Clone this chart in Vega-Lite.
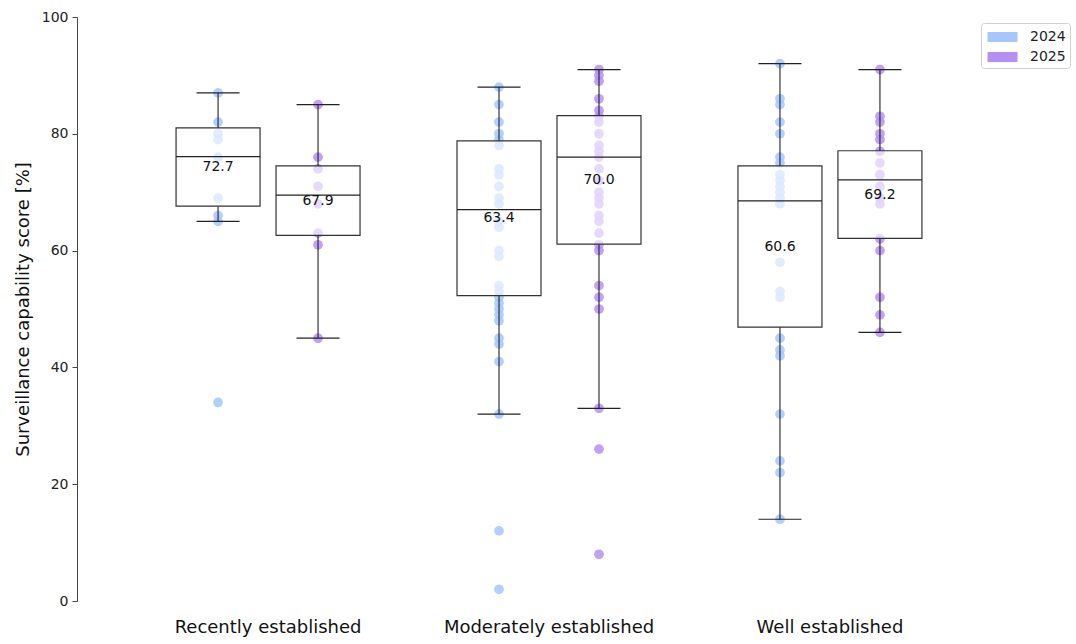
{
  "$schema": "https://vega.github.io/schema/vega-lite/v6.json",
  "width": 944,
  "height": 584,
  "autosize": {"type": "none"},
  "padding": {"left": 77, "top": 17, "right": 55, "bottom": 43},
  "background": "white",
  "config": {"font": "DejaVu Sans", "view": {"stroke": null}},
  "datasets": {
    "pts": [
      {"group": "Recently established", "year": "2024", "score": 87},
      {"group": "Recently established", "year": "2024", "score": 82},
      {"group": "Recently established", "year": "2024", "score": 80},
      {"group": "Recently established", "year": "2024", "score": 79},
      {"group": "Recently established", "year": "2024", "score": 76},
      {"group": "Recently established", "year": "2024", "score": 69},
      {"group": "Recently established", "year": "2024", "score": 66},
      {"group": "Recently established", "year": "2024", "score": 65},
      {"group": "Recently established", "year": "2024", "score": 34},
      {"group": "Recently established", "year": "2025", "score": 85},
      {"group": "Recently established", "year": "2025", "score": 76},
      {"group": "Recently established", "year": "2025", "score": 74},
      {"group": "Recently established", "year": "2025", "score": 71},
      {"group": "Recently established", "year": "2025", "score": 68},
      {"group": "Recently established", "year": "2025", "score": 63},
      {"group": "Recently established", "year": "2025", "score": 61},
      {"group": "Recently established", "year": "2025", "score": 45},
      {"group": "Moderately established", "year": "2024", "score": 88},
      {"group": "Moderately established", "year": "2024", "score": 85},
      {"group": "Moderately established", "year": "2024", "score": 82},
      {"group": "Moderately established", "year": "2024", "score": 80},
      {"group": "Moderately established", "year": "2024", "score": 79},
      {"group": "Moderately established", "year": "2024", "score": 78},
      {"group": "Moderately established", "year": "2024", "score": 74},
      {"group": "Moderately established", "year": "2024", "score": 73},
      {"group": "Moderately established", "year": "2024", "score": 71},
      {"group": "Moderately established", "year": "2024", "score": 69},
      {"group": "Moderately established", "year": "2024", "score": 68},
      {"group": "Moderately established", "year": "2024", "score": 65},
      {"group": "Moderately established", "year": "2024", "score": 64},
      {"group": "Moderately established", "year": "2024", "score": 60},
      {"group": "Moderately established", "year": "2024", "score": 59},
      {"group": "Moderately established", "year": "2024", "score": 54},
      {"group": "Moderately established", "year": "2024", "score": 53},
      {"group": "Moderately established", "year": "2024", "score": 52},
      {"group": "Moderately established", "year": "2024", "score": 51},
      {"group": "Moderately established", "year": "2024", "score": 50},
      {"group": "Moderately established", "year": "2024", "score": 49},
      {"group": "Moderately established", "year": "2024", "score": 48},
      {"group": "Moderately established", "year": "2024", "score": 45},
      {"group": "Moderately established", "year": "2024", "score": 44},
      {"group": "Moderately established", "year": "2024", "score": 41},
      {"group": "Moderately established", "year": "2024", "score": 32},
      {"group": "Moderately established", "year": "2024", "score": 12},
      {"group": "Moderately established", "year": "2024", "score": 2},
      {"group": "Moderately established", "year": "2025", "score": 91},
      {"group": "Moderately established", "year": "2025", "score": 90},
      {"group": "Moderately established", "year": "2025", "score": 89},
      {"group": "Moderately established", "year": "2025", "score": 86},
      {"group": "Moderately established", "year": "2025", "score": 84},
      {"group": "Moderately established", "year": "2025", "score": 83},
      {"group": "Moderately established", "year": "2025", "score": 82},
      {"group": "Moderately established", "year": "2025", "score": 80},
      {"group": "Moderately established", "year": "2025", "score": 78},
      {"group": "Moderately established", "year": "2025", "score": 77},
      {"group": "Moderately established", "year": "2025", "score": 76},
      {"group": "Moderately established", "year": "2025", "score": 74},
      {"group": "Moderately established", "year": "2025", "score": 72},
      {"group": "Moderately established", "year": "2025", "score": 70},
      {"group": "Moderately established", "year": "2025", "score": 69},
      {"group": "Moderately established", "year": "2025", "score": 68},
      {"group": "Moderately established", "year": "2025", "score": 66},
      {"group": "Moderately established", "year": "2025", "score": 65},
      {"group": "Moderately established", "year": "2025", "score": 63},
      {"group": "Moderately established", "year": "2025", "score": 61},
      {"group": "Moderately established", "year": "2025", "score": 60},
      {"group": "Moderately established", "year": "2025", "score": 54},
      {"group": "Moderately established", "year": "2025", "score": 52},
      {"group": "Moderately established", "year": "2025", "score": 50},
      {"group": "Moderately established", "year": "2025", "score": 33},
      {"group": "Moderately established", "year": "2025", "score": 26},
      {"group": "Moderately established", "year": "2025", "score": 8},
      {"group": "Well established", "year": "2024", "score": 92},
      {"group": "Well established", "year": "2024", "score": 86},
      {"group": "Well established", "year": "2024", "score": 85},
      {"group": "Well established", "year": "2024", "score": 82},
      {"group": "Well established", "year": "2024", "score": 80},
      {"group": "Well established", "year": "2024", "score": 76},
      {"group": "Well established", "year": "2024", "score": 75},
      {"group": "Well established", "year": "2024", "score": 73},
      {"group": "Well established", "year": "2024", "score": 72},
      {"group": "Well established", "year": "2024", "score": 71},
      {"group": "Well established", "year": "2024", "score": 70},
      {"group": "Well established", "year": "2024", "score": 69},
      {"group": "Well established", "year": "2024", "score": 68},
      {"group": "Well established", "year": "2024", "score": 58},
      {"group": "Well established", "year": "2024", "score": 53},
      {"group": "Well established", "year": "2024", "score": 52},
      {"group": "Well established", "year": "2024", "score": 45},
      {"group": "Well established", "year": "2024", "score": 43},
      {"group": "Well established", "year": "2024", "score": 42},
      {"group": "Well established", "year": "2024", "score": 32},
      {"group": "Well established", "year": "2024", "score": 24},
      {"group": "Well established", "year": "2024", "score": 22},
      {"group": "Well established", "year": "2024", "score": 14},
      {"group": "Well established", "year": "2025", "score": 91},
      {"group": "Well established", "year": "2025", "score": 83},
      {"group": "Well established", "year": "2025", "score": 82},
      {"group": "Well established", "year": "2025", "score": 80},
      {"group": "Well established", "year": "2025", "score": 79},
      {"group": "Well established", "year": "2025", "score": 77},
      {"group": "Well established", "year": "2025", "score": 75},
      {"group": "Well established", "year": "2025", "score": 73},
      {"group": "Well established", "year": "2025", "score": 71},
      {"group": "Well established", "year": "2025", "score": 69},
      {"group": "Well established", "year": "2025", "score": 68},
      {"group": "Well established", "year": "2025", "score": 62},
      {"group": "Well established", "year": "2025", "score": 60},
      {"group": "Well established", "year": "2025", "score": 52},
      {"group": "Well established", "year": "2025", "score": 49},
      {"group": "Well established", "year": "2025", "score": 46}
    ],
    "box": [
      {"group": "Recently established", "year": "2024", "lo": 65, "q1": 67.6, "med": 76.1, "q3": 81.0, "hi": 87, "mean": 72.7},
      {"group": "Recently established", "year": "2025", "lo": 45, "q1": 62.6, "med": 69.5, "q3": 74.5, "hi": 85, "mean": 67.9},
      {"group": "Moderately established", "year": "2024", "lo": 32, "q1": 52.3, "med": 67.0, "q3": 78.8, "hi": 88, "mean": 63.4},
      {"group": "Moderately established", "year": "2025", "lo": 33, "q1": 61.1, "med": 76.0, "q3": 83.1, "hi": 91, "mean": 70.0},
      {"group": "Well established", "year": "2024", "lo": 14, "q1": 46.9, "med": 68.5, "q3": 74.5, "hi": 92, "mean": 60.6},
      {"group": "Well established", "year": "2025", "lo": 46, "q1": 62.1, "med": 72.1, "q3": 77.1, "hi": 91, "mean": 69.2}
    ]
  },
  "encoding": {
    "x": {
      "field": "group", "type": "nominal", "title": null,
      "sort": ["Recently established", "Moderately established", "Well established"],
      "scale": {"paddingInner": 0, "paddingOuter": 0.18},
      "axis": {"domain": false, "ticks": false, "labelAngle": 0, "labelLimit": 0, "labelFontSize": 18, "labelColor": "#111", "labelPadding": 17}
    },
    "xOffset": {"field": "year", "type": "nominal", "scale": {"domain": ["2024", "2025"], "paddingInner": 0, "paddingOuter": 0.405}}
  },
  "layer": [
    {
      "data": {"name": "pts"},
      "mark": {"type": "circle", "size": 95, "opacity": 0.85},
      "encoding": {
        "y": {
          "field": "score", "type": "quantitative", "title": "Surveillance capability score [%]",
          "scale": {"domain": [0, 100], "nice": false, "zero": true},
          "axis": {"values": [0, 20, 40, 60, 80, 100], "grid": false, "tickSize": 5, "labelFontSize": 14, "labelColor": "#222", "labelPadding": 4, "titleFontSize": 18, "titleFontWeight": "normal", "titleColor": "#111", "titlePadding": 9, "domainColor": "#444", "tickColor": "#444"}
        },
        "color": {
          "field": "year", "type": "nominal",
          "scale": {"domain": ["2024", "2025"], "range": ["#a6c7fd", "#b590f4"]},
          "legend": {"orient": "none", "legendX": 904, "legendY": 6, "title": null, "symbolType": "M-0.75,-0.5H2.25V0.5H-0.75Z", "symbolSize": 400, "symbolOpacity": 1, "symbolStrokeWidth": 0, "labelFontSize": 14, "labelColor": "#222", "labelOffset": 25, "rowPadding": 3, "padding": 4, "strokeColor": "#d0d0d0", "cornerRadius": 3, "fillColor": "white"}
        }
      }
    },
    {
      "data": {"name": "box"},
      "mark": {"type": "rule", "color": "#222", "strokeWidth": 1.1},
      "encoding": {"y": {"field": "lo", "type": "quantitative", "title": "Surveillance capability score [%]"}, "y2": {"field": "q1"}}
    },
    {
      "data": {"name": "box"},
      "mark": {"type": "rule", "color": "#222", "strokeWidth": 1.1},
      "encoding": {"y": {"field": "q3", "type": "quantitative", "title": "Surveillance capability score [%]"}, "y2": {"field": "hi"}}
    },
    {
      "data": {"name": "box"},
      "mark": {"type": "bar", "width": 84, "fill": "white", "fillOpacity": 0.6, "stroke": "#333", "strokeWidth": 1.2},
      "encoding": {"y": {"field": "q1", "type": "quantitative", "title": "Surveillance capability score [%]"}, "y2": {"field": "q3"}}
    },
    {
      "data": {"name": "box"},
      "mark": {"type": "tick", "size": 84, "thickness": 1.2, "color": "#222", "opacity": 1},
      "encoding": {"y": {"field": "med", "type": "quantitative", "title": "Surveillance capability score [%]"}}
    },
    {
      "data": {"name": "box"},
      "mark": {"type": "tick", "size": 43, "thickness": 1.2, "color": "#222", "opacity": 1},
      "encoding": {"y": {"field": "lo", "type": "quantitative", "title": "Surveillance capability score [%]"}}
    },
    {
      "data": {"name": "box"},
      "mark": {"type": "tick", "size": 43, "thickness": 1.2, "color": "#222", "opacity": 1},
      "encoding": {"y": {"field": "hi", "type": "quantitative", "title": "Surveillance capability score [%]"}}
    },
    {
      "data": {"name": "box"},
      "transform": [{"calculate": "(datum.q1 + datum.q3) / 2", "as": "mid"}],
      "mark": {"type": "text", "fontSize": 14, "color": "#111", "baseline": "middle", "align": "center"},
      "encoding": {
        "y": {"field": "mid", "type": "quantitative", "title": "Surveillance capability score [%]"},
        "text": {"field": "mean", "type": "quantitative", "format": ".1f"}
      }
    }
  ]
}
